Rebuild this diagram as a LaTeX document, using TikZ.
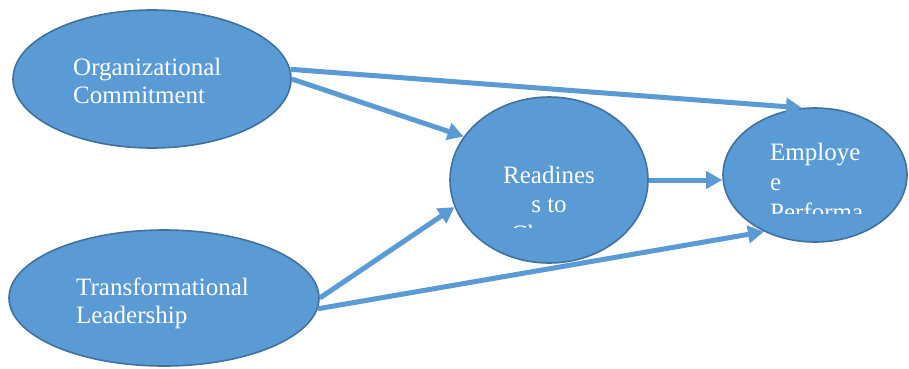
\documentclass[tikz,border=0pt]{standalone}
\usepackage{fontspec}
\setmainfont{Liberation Serif}
\usetikzlibrary{shapes.geometric,arrows.meta}
\definecolor{fillblue}{RGB}{91,155,213}
\definecolor{edgeblue}{RGB}{65,113,156}
\tikzset{
  oval/.style={ellipse, draw=edgeblue, line width=1.6pt, fill=fillblue, inner sep=0pt},
  lbl/.style={text=white, font=\fontsize{25}{28.5}\selectfont, inner sep=0pt},
  conn/.style={draw=fillblue, line width=5pt, -{Triangle[length=16pt,width=17pt]}}
}
\begin{document}
\begin{tikzpicture}[x=1pt,y=-1pt]
\path[use as bounding box, fill=white] (0,0) rectangle (909,368);
% ovals
\node[oval, minimum width=278pt, minimum height=138pt] (org) at (152,79) {};
\node[oval, minimum width=310pt, minimum height=136pt] (tr) at (164,298) {};
\node[oval, minimum width=198pt, minimum height=166pt] (rd) at (549,180) {};
\node[oval, minimum width=184pt, minimum height=134pt] (emp) at (815,175) {};
% texts
\node[lbl, anchor=base west] (org1) at (73,75) {Organizational};
\node[lbl, anchor=base west] (org2) at (73,103) {Commitment};
\node[lbl, anchor=base west] (tr1) at (76,295) {Transformational};
\node[lbl, anchor=base west] (tr2) at (76,323) {Leadership};
\begin{scope}
\clip (440,100) rectangle (660,227);
\node[lbl, anchor=base] (rd1) at (549,183) {Readines};
\node[lbl, anchor=base] (rd2) at (549,212) {s to};
\node[lbl, anchor=base] (rd3) at (549,242) {Change};
\end{scope}
\begin{scope}
\clip (740,110) rectangle (900,213);
\node[lbl, anchor=base west] (emp1) at (770,160) {Employe};
\node[lbl, anchor=base west] (emp2) at (770,190) {e};
\node[lbl, anchor=base west] (emp3) at (770,220) {Performa};
\end{scope}
% connectors
\draw[conn] (org.4) -- (emp.101);
\draw[conn] (org.east) -- (rd.153);
\draw[conn] (rd.east) -- (rd.east -| emp.west);
\draw[conn] (tr.east) -- (rd.196);
\draw[conn] (tr.-4) -- (emp.228);
\end{tikzpicture}
\end{document}
